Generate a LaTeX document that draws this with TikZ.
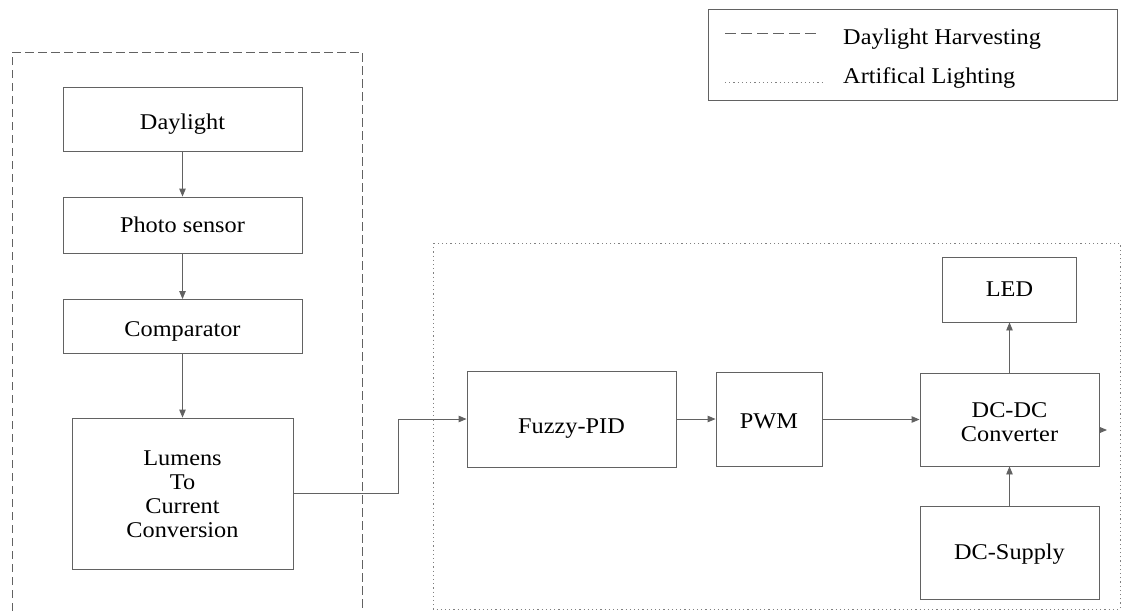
\documentclass[tikz,border=0pt]{standalone}
\usepackage{fontspec}
\setmainfont{Liberation Serif}[FakeStretch=1.08]
\usetikzlibrary{arrows.meta}
\definecolor{edge}{HTML}{626262}
\tikzset{
  block/.style={draw=edge, line width=0.9pt, inner sep=0pt, align=center,
    font=\fontsize{22.5}{24}\selectfont, text=black},
  % vertical placement of the label inside a block
  lbl/.style={text height=#1, text depth=1.3pt},
  arr/.style={draw=edge, line width=0.9pt, -{Triangle[length=8pt,width=6.5pt]}},
  daygroup/.style={draw=edge, line width=0.9pt, dash pattern=on 8.5pt off 4.5pt},
  artgroup/.style={draw=edge!80, line width=1pt, dash pattern=on 1.2pt off 3pt},
  legtext/.style={anchor=base west, inner sep=0pt, font=\fontsize{22.5}{24}\selectfont}
}
% stacked lines, lowered by #1 without changing the box size
\newcommand{\lowstack}[2]{\raisebox{-#1}[\height][\depth]{\begin{tabular}{@{}c@{}}#2\end{tabular}}}
\begin{document}
\begin{tikzpicture}[x=1pt, y=-1pt]
\useasboundingbox (0,0) rectangle (1124,611);

% group outlines
\draw[daygroup] (12,611) -- (12,52) -- (362,52) -- (362,611);
\draw[artgroup] (433,243) rectangle (1120,609);

% legend
\node[draw=edge, line width=0.9pt, minimum width=409pt, minimum height=91pt, inner sep=0pt] (legend) at (912.5,54.5) {};
\coordinate (dashA) at (725,33);
\coordinate (dashB) at (816,33);
\coordinate (dotA) at (725,82);
\coordinate (dotB) at (823,82);
\draw[daygroup, dash pattern=on 10.5pt off 5.5pt] (dashA) -- (dashB);
\draw[artgroup] (dotA) -- (dotB);
\node[legtext] (legday) at (843,44.5) {Daylight Harvesting};
\node[legtext] (legart) at (843,83.5) {Artifical Lighting};

% daylight harvesting chain
\node[block, lbl=22pt, minimum width=239pt, minimum height=64pt] (day) at (182.5,119) {Daylight};
\node[block, lbl=16pt, minimum width=239pt, minimum height=56pt] (photo) at (182.5,225) {Photo sensor};
\node[block, lbl=22pt, minimum width=239pt, minimum height=54pt] (comp) at (182.5,326.5) {Comparator};
\node[block, minimum width=221pt, minimum height=151pt] (lum) at (182.5,493.5) {\lowstack{3.5pt}{Lumens\\To\\Current\\Conversion}};

% artificial lighting chain
\node[block, lbl=30pt, minimum width=209pt, minimum height=96pt] (fuzzy) at (571.5,419) {Fuzzy-PID};
\node[block, lbl=21pt, minimum width=106pt, minimum height=94pt] (pwm) at (769,419) {PWM};
\node[block, minimum width=179pt, minimum height=93pt] (dcdc) at (1009.5,419.5) {\lowstack{5.5pt}{DC-DC\\Converter}};
\node[block, lbl=16pt, minimum width=134pt, minimum height=65pt] (led) at (1009.5,289.5) {LED};
\node[block, lbl=16pt, minimum width=179pt, minimum height=93pt] (supply) at (1009.5,552.5) {DC-Supply};
\coordinate (dcout) at (1107,430);

% connectors
\draw[arr] (day) -- (photo);
\draw[arr] (photo) -- (comp);
\draw[arr] (comp) -- (lum);
\draw[arr] (lum.east) -- ++(105,0) |- (fuzzy.west);
\draw[arr] (fuzzy) -- (pwm);
\draw[arr] (pwm.east |- dcdc.west) -- (dcdc.west);
\draw[arr] (dcdc) -- (led);
\draw[arr] (supply) -- (dcdc);
\draw[arr] (dcdc.east |- dcout) -- (dcout);
\end{tikzpicture}
\end{document}
